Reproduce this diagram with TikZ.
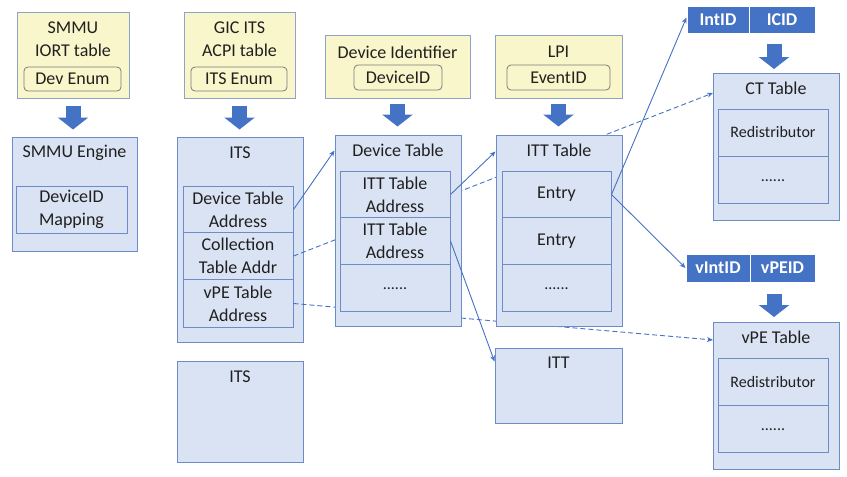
\documentclass[tikz,border=0pt]{standalone}
\usepackage{fontspec}
\setmainfont{Carlito}
\usetikzlibrary{arrows.meta,calc}
\definecolor{ylwfill}{HTML}{FAF6CB}
\definecolor{ylwdraw}{HTML}{8DA3C9}
\definecolor{bluefill}{HTML}{DAE3F3}
\definecolor{bluedraw}{HTML}{6D8BC6}
\definecolor{darkblue}{HTML}{4472C4}
\definecolor{txt}{HTML}{202020}
\definecolor{enumdraw}{HTML}{7A7A7A}
\newcommand{\dotsrow}{\raisebox{-5pt}{......}}
\tikzset{
  ybox/.style={draw=ylwdraw, fill=ylwfill, line width=1pt, inner sep=0pt},
  enumbox/.style={draw=enumdraw, fill=ylwfill, line width=0.8pt, rounded corners=4pt, inner sep=0pt, font=\fontsize{18}{20}\selectfont, text=txt},
  bbox/.style={draw=bluedraw, fill=bluefill, line width=1pt, inner sep=0pt},
  rowbox/.style={draw=bluedraw, fill=bluefill, line width=1pt, inner sep=0pt, minimum width=110pt, align=center, font=\fontsize{18}{23}\selectfont, text=txt},
  lbl/.style={inner sep=0pt, font=\fontsize{18}{20}\selectfont, text=txt},
  bar/.style={fill=darkblue, draw=white, line width=1pt, inner sep=0pt, text=white, font=\fontsize{18}{20}\selectfont\bfseries},
  fatarr/.style={draw=darkblue, line width=15pt, -{Triangle[width=30pt,length=12pt]}},
  conn/.style={draw=darkblue, line width=0.9pt, -{Stealth[length=6pt,width=5pt]}},
  dconn/.style={conn, dash pattern=on 5pt off 3pt},
}
\begin{document}
\begin{tikzpicture}[x=1pt,y=-1pt]
\useasboundingbox (0,0) rectangle (847,477);
\fill[white] (0,0) rectangle (847,477);

% ---- yellow source boxes
\node[ybox, minimum width=112pt, minimum height=86pt] (smmu) at (73,55) {};
\node[lbl] (smmut1) at (73,28) {SMMU};
\node[lbl] (smmut2) at (73,50) {IORT table};
\node[enumbox, minimum width=97pt, minimum height=24pt] (devenum) at (72.5,79) {Dev Enum};

\node[ybox, minimum width=111pt, minimum height=86pt] (gic) at (239.5,55) {};
\node[lbl] (gict1) at (239.5,28) {GIC ITS};
\node[lbl] (gict2) at (239.5,50) {ACPI table};
\node[enumbox, minimum width=96pt, minimum height=24pt] (itsenum) at (239,79) {ITS Enum};

\node[ybox, minimum width=145pt, minimum height=63pt] (devid) at (397.5,66.5) {};
\node[lbl] (devidt) at (397.5,52) {Device Identifier};
\node[enumbox, minimum width=88pt, minimum height=25pt] (deviceid) at (398,77.5) {DeviceID};

\node[ybox, minimum width=127pt, minimum height=63pt] (lpi) at (558.5,66.5) {};
\node[lbl] (lpit) at (558.5,52) {LPI};
\node[enumbox, minimum width=103pt, minimum height=25pt] (eventid) at (558.5,77.5) {EventID};

% ---- SMMU engine
\node[bbox, minimum width=125pt, minimum height=114pt] (smmueng) at (74.5,194) {};
\node[lbl] (smmuengt) at (74.5,153) {SMMU Engine};
\node[rowbox, minimum width=111pt, minimum height=47pt] (devmap) at (71.5,209.5) {DeviceID\\Mapping};

% ---- ITS (upper)
\node[bbox, minimum width=126pt, minimum height=205pt] (its1) at (240,239.5) {};
\node[lbl] (its1t) at (240,153) {ITS};
\node[rowbox, minimum height=46pt] (itsr1) at (238,209.5) {Device Table\\Address};
\node[rowbox, minimum height=47pt] (itsr2) at (238,256) {Collection\\Table Addr};
\node[rowbox, minimum height=48pt] (itsr3) at (238,303.5) {vPE Table\\Address};

% ---- dashed connectors (behind the tables)
\draw[dconn] (itsr2.east) -- (713,93) coordinate (ctin);
\draw[dconn] (itsr3.east) -- (713,340) coordinate (vpein);

% ---- ITS (lower)
\node[bbox, minimum width=126pt, minimum height=101pt] (its2) at (240,411.5) {};
\node[lbl] (its2t) at (240,377) {ITS};

% ---- Device Table
\node[bbox, minimum width=126pt, minimum height=191pt] (devtab) at (398,230.5) {};
\node[lbl] (devtabt) at (398,150) {Device Table};
\node[rowbox, minimum height=46pt] (dtr1) at (395,194.5) {ITT Table\\Address};
\node[rowbox, minimum height=47pt] (dtr2) at (395,241) {ITT Table\\Address};
\node[rowbox, minimum height=47pt, font=\fontsize{16}{18}\selectfont] (dtr3) at (395,287.5) {\dotsrow};

% ---- ITT Table
\node[bbox, minimum width=126pt, minimum height=191pt] (itttab) at (559,230.5) {};
\node[lbl] (itttabt) at (559,150) {ITT Table};
\node[rowbox, minimum width=109pt, minimum height=46pt] (ittr1) at (556.5,194.5) {Entry};
\node[rowbox, minimum width=109pt, minimum height=47pt] (ittr2) at (556.5,241) {Entry};
\node[rowbox, minimum width=109pt, minimum height=47pt, font=\fontsize{16}{18}\selectfont] (ittr3) at (556.5,287.5) {\dotsrow};

% ---- ITT
\node[bbox, minimum width=127pt, minimum height=75pt] (itt) at (558.5,385.5) {};
\node[lbl] (ittt) at (558.5,363) {ITT};

% ---- CT Table
\node[bbox, minimum width=126pt, minimum height=147pt] (cttab) at (776,146.5) {};
\node[lbl] (cttabt) at (776,88) {CT Table};
\node[rowbox, minimum height=47pt, font=\fontsize{16}{18}\selectfont] (ctr1) at (773,132.5) {Redistributor};
\node[rowbox, minimum height=47pt, font=\fontsize{16}{18}\selectfont] (ctr2) at (773,179.5) {\dotsrow};

% ---- vPE Table
\node[bbox, minimum width=126pt, minimum height=147pt] (vpetab) at (776,395.5) {};
\node[lbl] (vpetabt) at (776,337) {vPE Table};
\node[rowbox, minimum height=47pt, font=\fontsize{16}{18}\selectfont] (vper1) at (773,381.5) {Redistributor};
\node[rowbox, minimum height=47pt, font=\fontsize{16}{18}\selectfont] (vper2) at (773,428.5) {\dotsrow};

% ---- bars
\node[bar, minimum width=62pt, minimum height=27pt] (intid) at (718,19.5) {IntID};
\node[bar, minimum width=66pt, minimum height=27pt] (icid) at (782,19.5) {ICID};
\node[bar, minimum width=64pt, minimum height=28pt] (vintid) at (718,268) {vIntID};
\node[bar, minimum width=65pt, minimum height=28pt] (vpeid) at (782.5,268) {vPEID};

% ---- fat arrows
\coordinate (ctarr) at (774,73);
\coordinate (vpearr) at (774,322);
\draw[fatarr, shorten <=7pt, shorten >=7pt] (smmu.south) -- (smmu.south |- smmueng.north);
\draw[fatarr, shorten <=7pt, shorten >=7pt] (gic.south) -- (gic.south |- its1.north);
\draw[fatarr, shorten <=5pt, shorten >=8pt] (devid.south) -- (devid.south |- devtab.north);
\draw[fatarr, shorten <=5pt, shorten >=8pt] (lpi.south) -- (lpi.south |- itttab.north);
\draw[fatarr, shorten <=10pt, shorten >=4pt] (ctarr |- icid.south) -- (ctarr);
\draw[fatarr, shorten <=11pt, shorten >=5pt] (vpearr |- vpeid.south) -- (vpearr);

% ---- solid connectors
\draw[conn] (itsr1.east) -- ($(devtab.north west)+(0,16)$);
\draw[conn] (dtr1.east) -- ($(itttab.north west)+(0,17)$);
\draw[conn] (dtr2.east) -- ($(itt.north west)+(0,14)$);
\draw[conn] (ittr1.east) -- ($(intid.west)+(0,-2)$);
\draw[conn] (ittr1.east) -- (vintid.west);
\end{tikzpicture}
\end{document}
